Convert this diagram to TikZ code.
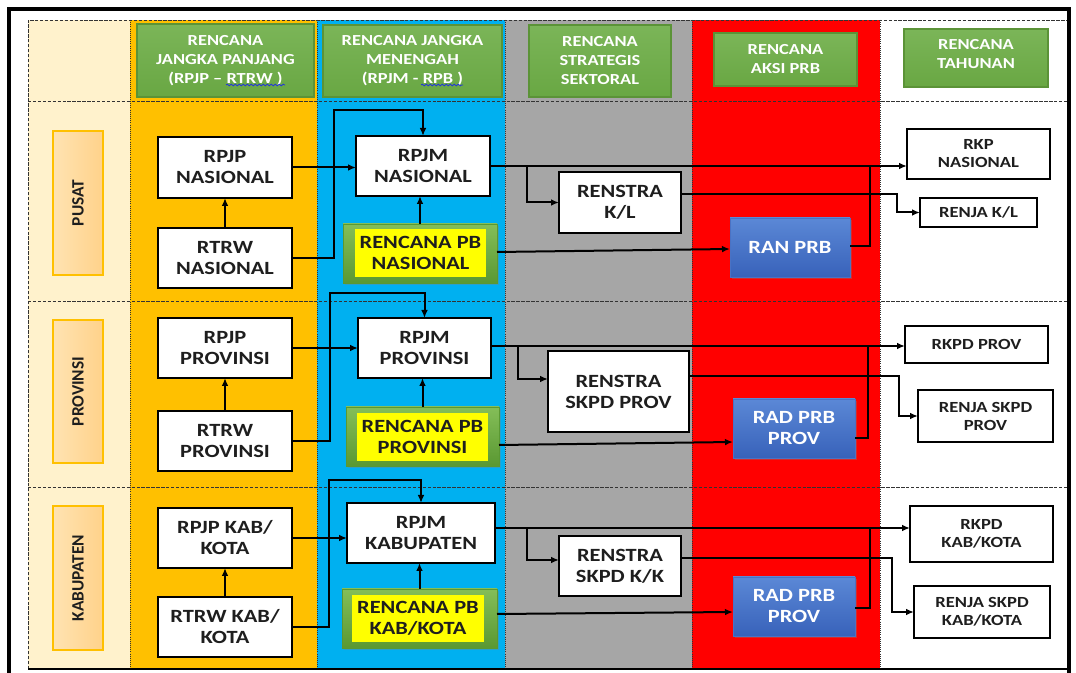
\documentclass[tikz,border=0pt]{standalone}
\usepackage{fontspec}
\setmainfont{Carlito}[FakeStretch=1.2]
\newfontfamily\lblfont{Carlito}
\usetikzlibrary{arrows.meta,shadows,decorations.pathmorphing}
\definecolor{cream}{HTML}{FFF2CC}
\definecolor{orangecol}{HTML}{FFC000}
\definecolor{bluecol}{HTML}{00B0F0}
\definecolor{graycol}{HTML}{A6A6A6}
\definecolor{redcol}{HTML}{FF0000}
\definecolor{hgreenT}{HTML}{7BB558}
\definecolor{hgreenB}{HTML}{69A743}
\definecolor{hgreenD}{HTML}{5B9337}
\definecolor{pgreenT}{HTML}{84BE58}
\definecolor{pgreenB}{HTML}{5A9832}
\definecolor{yel}{HTML}{FFFF00}
\definecolor{blueT}{HTML}{5B88D6}
\definecolor{blueB}{HTML}{3862BA}
\definecolor{blueD}{HTML}{4A72C4}
\definecolor{lblL}{HTML}{FFE3B2}
\definecolor{lblR}{HTML}{FFD28A}
\definecolor{txt}{HTML}{1E1E1E}
\definecolor{spell}{HTML}{2233DD}
\newcommand{\pbx}[7]{\node[#6, minimum width={(#4-#2)*0.75pt}, minimum height={(#5-#3)*0.75pt}] (#1) at ({(#2+#4)/2},{(#3+#5)/2}) {#7};}
\begin{document}
\begin{tikzpicture}[x=0.75pt,y=-0.75pt,
  every node/.style={inner sep=0pt, outer sep=0pt, align=center},
  wbox/.style={draw=black, line width=2.2pt, fill=white, text=txt, font=\bfseries\fontsize{14}{15.75}\selectfont},
  rbox/.style={draw=black, line width=2.2pt, fill=white, text=txt, font=\bfseries\fontsize{11.6}{13.5}\selectfont},
  hbox/.style={top color=hgreenT, bottom color=hgreenB, draw=hgreenD, line width=0.8pt, text=white, font=\bfseries\fontsize{11.5}{14.25}\selectfont},
  bbox/.style={top color=blueT, bottom color=blueB, draw=blueD, line width=0.5pt, text=white, font=\bfseries\fontsize{14}{15.75}\selectfont, drop shadow={opacity=0.35, shadow xshift=1.5pt, shadow yshift=-1.5pt}},
  gbox/.style={top color=pgreenT, bottom color=pgreenB, draw=pgreenB, line width=0.5pt, drop shadow={opacity=0.35, shadow xshift=1.5pt, shadow yshift=-1.5pt}},
  ybox/.style={fill=yel, text=txt, font=\bfseries\fontsize{14}{15.75}\selectfont},
  lbox/.style={left color=lblL, right color=lblR, draw=orangecol, line width=1.2pt},
  lbl/.style={rotate=90, text=txt, font=\lblfont\bfseries\fontsize{13}{15}\selectfont},
  conn/.style={line width=1.5pt, -{Latex[length=6pt,width=5pt]}},
  plain/.style={line width=1.5pt},
  rowline/.style={line width=0.6pt, black!80, dash pattern=on 2.5pt off 1.2pt},
  colline/.style={line width=0.6pt, black!80, densely dotted},
  wavy/.style={spell, line width=0.6pt, decorate, decoration={snake, amplitude=0.6pt, segment length=3pt}}
]
\useasboundingbox (0,0) rectangle (1076,673);
% columns
\fill[cream] (28,20) rectangle (130,669);
\fill[orangecol] (130,20) rectangle (317,669);
\fill[bluecol] (317,20) rectangle (505,669);
\fill[graycol] (505,20) rectangle (692,669);
\fill[redcol] (692,20) rectangle (880,669);
\fill[white] (880,20) rectangle (1069,669);
% grid
\foreach \xx in {130,317,505,692,880} \draw[colline] (\xx,20) -- (\xx,669);
\foreach \yy in {101,301,487} \draw[rowline] (28,\yy) -- (1069,\yy);
\draw[rowline] (28,669) -- (28,20) -- (1069,20);
\draw[line width=1.3pt] (28,669) -- (1069,669);
% outer frame
\draw[line width=2.3pt] (9,690) -- (9,9) -- (1069,9) -- (1069,690);

% headers
\pbx{H1}{137}{24}{314}{97}{hbox}{RENCANA\\JANGKA PANJANG\\(RPJP -- RTRW )}
\pbx{H2}{323}{25}{502}{97}{hbox}{RENCANA JANGKA\\MENENGAH\\(RPJM - RPB )}
\pbx{H3}{529}{25}{671}{97}{hbox}{RENCANA\\STRATEGIS\\SEKTORAL}
\pbx{H4}{714}{33}{857}{86}{hbox}{RENCANA\\AKSI PRB}
\pbx{H5}{904}{29}{1048}{87}{hbox}{RENCANA\\TAHUNAN\\[-8pt]}
\draw[wavy] (226,85) -- (285,85);
\draw[wavy] (421,85) -- (463,85);

% row labels
\pbx{L1}{53}{131}{103}{275}{lbox}{}
\pbx{L2}{53}{320}{103}{463}{lbox}{}
\pbx{L3}{53}{506}{103}{650}{lbox}{}
\node[lbl] (L1t) at (L1) {PUSAT};
\node[lbl] (L2t) at (L2) {PROVINSI};
\node[lbl] (L3t) at (L3) {KABUPATEN};

% row 1
\pbx{RPJP1}{158}{137}{292}{198}{wbox}{RPJP\\NASIONAL}
\pbx{RTRW1}{158}{228}{292}{288}{wbox}{RTRW\\NASIONAL}
\pbx{RPJM1}{356}{136}{490}{196}{wbox}{RPJM\\NASIONAL}
\pbx{PB1g}{343}{224}{497}{283}{gbox}{}
\pbx{PB1}{355}{229}{486}{277}{ybox}{RENCANA PB\\NASIONAL}
\pbx{REN1}{559}{172}{681}{233}{wbox}{RENSTRA\\K/L}
\pbx{RAN1}{730}{218}{850}{277}{bbox}{RAN PRB}
\pbx{RKP1}{907}{129}{1050}{179}{rbox}{RKP\\NASIONAL}
\pbx{RJA1}{920}{198}{1037}{227}{rbox}{RENJA K/L}

% row 2
\pbx{RPJP2}{158}{318}{292}{378}{wbox}{RPJP\\PROVINSI}
\pbx{RTRW2}{158}{411}{292}{471}{wbox}{RTRW\\PROVINSI}
\pbx{RPJM2}{358}{318}{491}{378}{wbox}{RPJM\\PROVINSI}
\pbx{PB2g}{346}{407}{499}{466}{gbox}{}
\pbx{PB2}{357}{413}{488}{461}{ybox}{RENCANA PB\\PROVINSI}
\pbx{REN2}{548}{351}{689}{432}{wbox}{RENSTRA\\SKPD PROV}
\pbx{RAD2}{733}{399}{855}{458}{bbox}{RAD PRB\\PROV}
\pbx{RKPD2}{905}{326}{1048}{363}{rbox}{RKPD PROV}
\pbx{RJA2}{918}{390}{1053}{442}{rbox}{RENJA SKPD\\PROV}

% row 3
\pbx{RPJP3}{158}{508}{292}{568}{wbox}{RPJP KAB/\\KOTA}
\pbx{RTRW3}{158}{597}{292}{657}{wbox}{RTRW KAB/\\KOTA}
\pbx{RPJM3}{347}{503}{495}{563}{wbox}{RPJM\\KABUPATEN}
\pbx{PB3g}{342}{589}{497}{648}{gbox}{}
\pbx{PB3}{352}{595}{484}{642}{ybox}{RENCANA PB\\KAB/KOTA}
\pbx{REN3}{559}{536}{681}{596}{wbox}{RENSTRA\\SKPD K/K}
\pbx{RAD3}{733}{577}{855}{636}{bbox}{RAD PRB\\PROV}
\pbx{RKPD3}{910}{506}{1053}{562}{rbox}{RKPD\\KAB/KOTA}
\pbx{RJA3}{914}{586}{1050}{638}{rbox}{RENJA SKPD\\KAB/KOTA}

% connectors row 1
\draw[conn] (RTRW1.north) -- (RPJP1.south);
\draw[conn] (RPJP1.east) -- (RPJP1.east -| RPJM1.west);
\draw[conn] (RTRW1.east) -| (334,110) -| (RPJM1.north);
\draw[conn] (PB1g.north) -- (PB1g.north |- RPJM1.south);
\draw[conn] (RPJM1.east) -- (RPJM1.east -| RKP1.west);
\draw[conn] (RPJM1.east -| 527,0) |- (REN1.west);
\draw[conn] (REN1.east |- 0,194) -- (897,194) |- (RJA1.west);
\draw[conn] (PB1g.east |- 0,252) -- (RAN1.west |- 0,249);
\draw[plain] (RAN1.east |- 0,246) -| (RPJM1.east -| 870,0);

% connectors row 2
\draw[conn] (RTRW2.north) -- (RPJP2.south);
\draw[conn] (RPJP2.east) -- (RPJP2.east -| RPJM2.west);
\draw[conn] (RTRW2.east) -| (330,293) -| (RPJM2.north);
\draw[conn] (PB2g.north) -- (PB2g.north |- RPJM2.south);
\draw[conn] (RPJM2.east |- 0,346) -- (RKPD2.west |- 0,346);
\draw[conn] (518,346) |- (REN2.west |- 0,379);
\draw[conn] (REN2.east |- 0,376) -- (899,376) |- (RJA2.west);
\draw[conn] (PB2g.east |- 0,445) -- (RAD2.west |- 0,442);
\draw[plain] (RAD2.east |- 0,438) -| (868,346);

% connectors row 3
\draw[conn] (RTRW3.north) -- (RPJP3.south);
\draw[conn] (RPJP3.east) -- (RPJP3.east -| RPJM3.west);
\draw[conn] (RTRW3.east) -| (329,480) -| (RPJM3.north);
\draw[conn] (PB3g.north) -- (PB3g.north |- RPJM3.south);
\draw[conn] (RPJM3.east |- 0,528) -- (RKPD3.west |- 0,528);
\draw[conn] (527,528) |- (REN3.west |- 0,560);
\draw[conn] (REN3.east |- 0,558) -- (892,558) |- (RJA3.west);
\draw[conn] (PB3g.east |- 0,614) -- (RAD3.west |- 0,612);
\draw[plain] (RAD3.east |- 0,608) -| (870,528);
\end{tikzpicture}
\end{document}
